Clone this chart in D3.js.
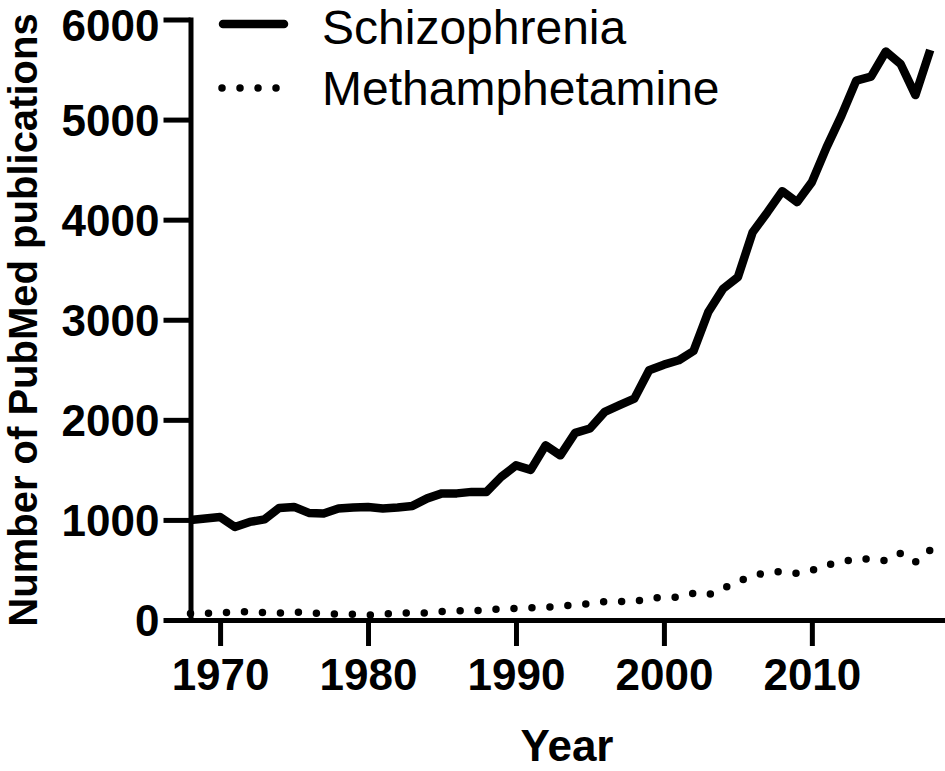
<!DOCTYPE html>
<html>
<head>
<meta charset="utf-8">
<script src="https://cdn.jsdelivr.net/npm/d3@7"></script>
<style>
  html, body { margin: 0; padding: 0; background: #fff; }
  svg { display: block; }
  text { font-family: "Liberation Sans", Arial, sans-serif; fill: #000; }
</style>
</head>
<body>
<svg id="chart" width="945" height="771"></svg>
<script>
// ---- Data ----
const years = d3.range(1968, 2019);
const schizophrenia = [
  1000, 1015, 1030, 930, 980, 1005, 1120, 1130, 1070, 1065,
  1115, 1125, 1130, 1115, 1125, 1140, 1215, 1265, 1265, 1280,
  1280, 1430, 1545, 1500, 1745, 1645, 1870, 1913, 2079, 2146,
  2212, 2495, 2551, 2595, 2688, 3077, 3310, 3426, 3875, 4075,
  4285, 4175, 4375, 4725, 5040, 5390, 5430, 5680, 5555, 5245,
  5695
];
const methamphetamine = [
  65, 67, 70, 80, 82, 75, 70, 78, 72, 62,
  60, 58, 50, 55, 72, 70, 70, 85, 93, 85,
  105, 110, 115, 122, 127, 140, 150, 165, 185, 185,
  182, 220, 222, 230, 268, 250, 315, 385, 440, 478,
  485, 466, 495, 550, 580, 612, 610, 592, 666, 579,
  699
];
const xTicks = [1970, 1980, 1990, 2000, 2010];
const yTicks = [0, 1000, 2000, 3000, 4000, 5000, 6000];
const seriesNames = ["Schizophrenia", "Methamphetamine"];

// ---- Layout ----
const svg = d3.select("#chart");
const x = d3.scaleLinear().domain([1968, 2019]).range([190.5, 945]);
const y = d3.scaleLinear().domain([0, 6000]).range([620, 19.5]);

const line = d3.line().x((d, i) => x(years[i])).y(d => y(d));

// Series
svg.append("path")
  .datum(schizophrenia)
  .attr("d", line)
  .attr("fill", "none")
  .attr("stroke", "#000")
  .attr("stroke-width", 8.5)
  .attr("stroke-linejoin", "round")
  .attr("stroke-linecap", "butt");

svg.append("path")
  .datum(methamphetamine)
  .attr("d", line)
  .attr("fill", "none")
  .attr("stroke", "#000")
  .attr("stroke-width", 7.5)
  .attr("stroke-linecap", "round")
  .attr("stroke-dasharray", "0 18");

// X axis
const xAxis = svg.append("g")
  .attr("transform", `translate(0,${y(0)})`)
  .call(d3.axisBottom(x).tickValues(xTicks).tickFormat(d3.format("d")).tickSize(26).tickSizeOuter(0));
xAxis.select(".domain").attr("stroke-width", 5).attr("stroke-linecap", "square");
xAxis.selectAll(".tick line").attr("stroke-width", 5);
xAxis.selectAll(".tick text")
  .attr("y", 70).attr("dy", 0)
  .style("font-family", "'Liberation Sans', Arial, sans-serif")
  .style("font-size", "44px").style("font-weight", "bold").attr("fill", "#000");

// Y axis
const yAxis = svg.append("g")
  .attr("transform", `translate(${x(1968)},0)`)
  .call(d3.axisLeft(y).tickValues(yTicks).tickFormat(d3.format("d")).tickSize(27).tickSizeOuter(0));
yAxis.select(".domain").attr("stroke-width", 5).attr("stroke-linecap", "square");
yAxis.selectAll(".tick line").attr("stroke-width", 5);
yAxis.selectAll(".tick text")
  .attr("x", -31)
  .attr("dy", d => d === 6000 ? "0.48em" : "0.36em")
  .style("font-family", "'Liberation Sans', Arial, sans-serif")
  .style("font-size", "44px").style("font-weight", "bold").attr("fill", "#000");

// Axis titles
svg.append("text")
  .attr("x", 567).attr("y", 761)
  .attr("text-anchor", "middle")
  .style("font-size", "44px").style("font-weight", "bold")
  .text("Year");

svg.append("text")
  .attr("transform", "translate(37,320) rotate(-90)")
  .attr("text-anchor", "middle")
  .style("font-size", "40px").style("font-weight", "bold")
  .text("Number of PubMed publications");

// Legend
const legend = svg.append("g");
legend.append("line")
  .attr("x1", 223).attr("x2", 284).attr("y1", 24).attr("y2", 24)
  .attr("stroke", "#000").attr("stroke-width", 8.5).attr("stroke-linecap", "round");
legend.append("line")
  .attr("x1", 222).attr("x2", 277).attr("y1", 88).attr("y2", 88)
  .attr("stroke", "#000").attr("stroke-width", 7.5).attr("stroke-linecap", "round")
  .attr("stroke-dasharray", "0 18");
legend.append("text")
  .attr("x", 322).attr("y", 44)
  .style("font-size", "48px")
  .text(seriesNames[0]);
legend.append("text")
  .attr("x", 322).attr("y", 105)
  .style("font-size", "48px")
  .text(seriesNames[1]);
</script>
</body>
</html>
